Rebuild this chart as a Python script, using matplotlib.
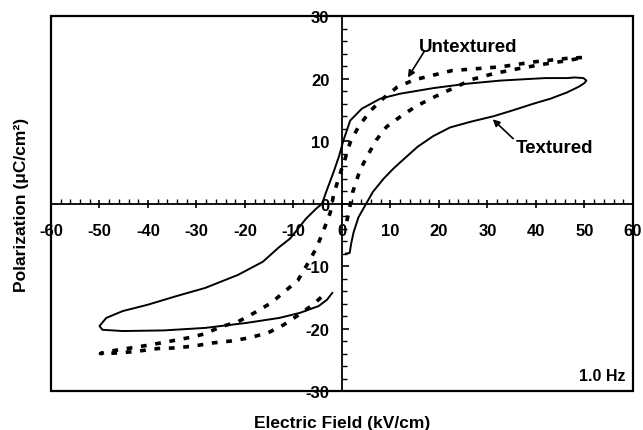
import matplotlib
matplotlib.use("Agg")
import matplotlib.pyplot as plt
from matplotlib.patches import Rectangle
from matplotlib.ticker import MultipleLocator

plt.rcParams['font.family'] = ['Liberation Sans', 'DejaVu Sans']
plt.rcParams['font.weight'] = 'bold'
plt.rcParams['axes.unicode_minus'] = False

# Textured loop (solid), traced from the ascending branch round to the lower branch
tex_x = [0.8, 1.6, 1.9, 2.4, 3.4, 5.0, 6.4, 8.6, 10.6, 13.0, 15.6, 18.8, 22.3, 26.5,
         31.3, 35.5, 39.5, 43.0, 46.4, 48.8, 50.0, 50.4, 49.8, 48.0, 46.5, 42.0, 39.6,
         32.7, 25.8, 18.9, 12.0, 7.9, 4.1, 1.7, 0.3, -0.6, -1.7, -3.1, -4.1, -5.3,
         -7.4, -10.7, -13.0, -16.3, -21.4, -28.2, -34.1, -40.1, -45.2, -48.6, -50.0,
         -49.4, -45.2, -36.7, -28.2, -19.7, -12.9, -8.7, -4.8, -3.1, -2.0]
tex_y = [-8.0, -7.9, -6.4, -4.6, -2.2, 0.0, 1.9, 4.0, 5.6, 7.3, 9.1, 10.8, 12.2, 13.1,
         14.0, 15.0, 16.0, 16.8, 17.8, 18.7, 19.3, 19.7, 20.1, 20.2, 20.1, 20.1, 20.0,
         19.7, 19.2, 18.5, 17.6, 16.8, 15.2, 13.3, 10.1, 7.6, 5.1, 2.2, 0.0, -0.8,
         -2.4, -5.6, -7.0, -9.3, -11.4, -13.5, -14.8, -16.2, -17.2, -18.3, -19.6,
         -20.2, -20.4, -20.3, -19.9, -19.1, -18.3, -17.5, -16.4, -15.4, -14.3]

# Untextured loop (dashed)
untex_x = [1.0, 1.4, 2.2, 3.4, 4.4, 5.5, 7.1, 9.2, 12.0, 15.1, 18.3, 21.6, 26.9, 31.2,
           36.3, 41.4, 46.5, 49.9, 47.0, 39.7, 32.7, 22.7, 14.8, 11.3, 8.6, 5.8,
           3.4, 1.7, 0.7, -0.5, -1.7, -2.4, -3.8, -5.2, -6.9, -9.1, -12.0, -14.6,
           -18.1, -21.4, -24.9, -28.5, -31.8, -35.9, -39.4, -43.5, -47.6, -49.8,
           -45.6, -41.9, -37.9, -34.2, -30.5, -26.6, -22.9, -19.2, -15.3, -12.0,
           -8.9, -6.0, -4.3, -3.3]
untex_y = [-2.8, -1.4, 1.8, 4.6, 6.4, 8.0, 10.2, 12.3, 13.9, 15.5, 16.8, 18.0, 19.9, 20.8,
           21.6, 22.3, 22.9, 23.4, 23.3, 22.7, 21.9, 21.3, 19.8, 18.6, 16.9, 14.8,
           12.3, 9.8, 7.3, 4.5, 1.5, -1.4, -4.3, -7.0, -9.4, -12.3, -14.2, -15.9,
           -17.5, -18.9, -19.7, -20.9, -21.5, -22.1, -22.6, -23.1, -23.6, -24.0,
           -23.9, -23.6, -23.2, -23.1, -22.8, -22.3, -22.0, -21.5, -20.7, -19.4,
           -17.8, -16.2, -15.0, -13.9]

fig = plt.figure(figsize=(6.43, 4.31), dpi=100)
ax = fig.add_axes([0.0793, 0.0905, 0.905, 0.8695])

ax.plot(tex_x, tex_y, color='black', lw=1.4, solid_joinstyle='round')
ax.plot(untex_x, untex_y, color='black', lw=2.6, linestyle=(0, (1.6, 2.4)),
        dash_capstyle='butt')

ax.set_xlim(-60, 60)
ax.set_ylim(-30, 30)

# axes crossing at the origin, box drawn around
ax.spines['left'].set_position(('data', 0))
ax.spines['bottom'].set_position(('data', 0))
ax.spines['top'].set_visible(False)
ax.spines['right'].set_visible(False)
ax.spines['left'].set_linewidth(1.3)
ax.spines['bottom'].set_linewidth(1.3)
ax.add_patch(Rectangle((0, 0), 1, 1, transform=ax.transAxes, fill=False,
                       lw=1.6, ec='black', clip_on=False, zorder=5))

ax.xaxis.set_major_locator(MultipleLocator(10))
ax.xaxis.set_minor_locator(MultipleLocator(2))
ax.yaxis.set_major_locator(MultipleLocator(10))
ax.yaxis.set_minor_locator(MultipleLocator(2))
ax.tick_params(axis='x', which='major', direction='inout', length=6, width=1.2,
               pad=11, labelsize=12)
ax.tick_params(axis='x', which='minor', direction='in', length=3.5, width=1.0)
ax.tick_params(axis='y', which='major', direction='in', length=5, width=1.2,
               pad=9, labelsize=12)
ax.tick_params(axis='y', which='minor', direction='in', length=3.5, width=1.0)
for lab in ax.get_xticklabels() + ax.get_yticklabels():
    lab.set_fontweight('bold')

ax.set_xlabel('Electric Field (kV/cm)', fontsize=12.5, fontweight='bold', va='center')
ax.xaxis.set_label_coords(0.5, -0.085)
ax.set_ylabel('Polarization (μC/cm²)', fontsize=12.5, fontweight='bold', va='center')
ax.yaxis.set_label_coords(-0.05, 0.5)

ax.text(26.0, 25.1, 'Untextured', ha='center', va='center', fontsize=13.5,
        fontweight='bold')
ax.annotate('', xy=(13.6, 20.2), xytext=(17.0, 24.4),
            arrowprops=dict(arrowstyle='-|>', color='black', lw=1.2,
                            mutation_scale=10, shrinkA=0, shrinkB=0))
ax.text(43.8, 9.0, 'Textured', ha='center', va='center', fontsize=13.5,
        fontweight='bold')
ax.annotate('', xy=(31.1, 13.5), xytext=(35.3, 10.4),
            arrowprops=dict(arrowstyle='-|>', color='black', lw=1.2,
                            mutation_scale=10, shrinkA=0, shrinkB=0))
ax.text(58.4, -27.5, '1.0 Hz', ha='right', va='center', fontsize=11.5,
        fontweight='bold')

fig.savefig('out.png', dpi=100)
